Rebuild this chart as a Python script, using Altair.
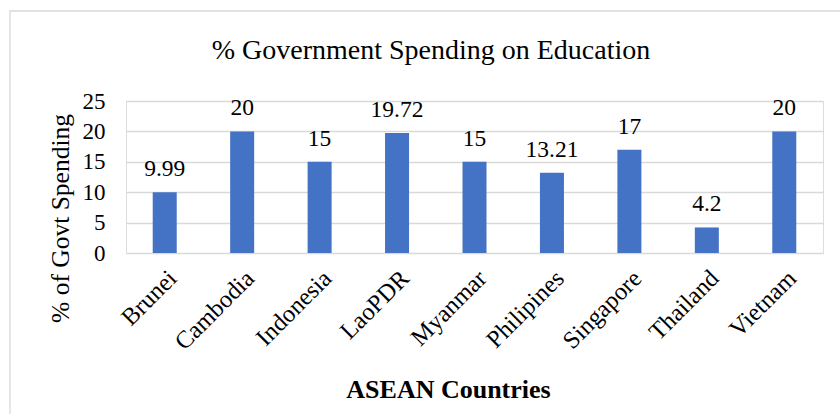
import altair as alt
import pandas as pd

countries = ["Brunei", "Cambodia", "Indonesia", "LaoPDR", "Myanmar",
             "Philipines", "Singapore", "Thailand", "Vietnam"]
values = [9.99, 20, 15, 19.72, 15, 13.21, 17, 4.2, 20]
labels = ["9.99", "20", "15", "19.72", "15", "13.21", "17", "4.2", "20"]
title_text = ["% Government Spending on Education"]

df = pd.DataFrame({"country": countries, "value": values, "label": labels})

FONT = "Liberation Serif"

x = alt.X("country:N", sort=countries,
          scale=alt.Scale(paddingInner=0.69, paddingOuter=0.345),
          axis=alt.Axis(title="ASEAN Countries", labelAngle=-45, labelFontSize=24.5,
                        labelFont=FONT, labelColor="#000000", labelPadding=13,
                        ticks=False, domain=False, labelOverlap=False,
                        titleFont=FONT, titleFontSize=26, titleFontWeight="bold",
                        titleColor="#000000", titleX=322, titleY=144,
                        titleBaseline="alphabetic", titleAlign="center"))
y = alt.Y("value:Q", scale=alt.Scale(domain=[0, 25], nice=False),
          axis=alt.Axis(title="% of Govt Spending", values=[0, 5, 10, 15, 20, 25],
                        labelFontSize=23, labelFont=FONT, labelColor="#000000",
                        labelPadding=21, ticks=False, domain=False, labelOverlap=False,
                        gridColor="#d9d9d9", gridWidth=1.3,
                        titleFont=FONT, titleFontSize=25.5, titleFontWeight="normal",
                        titleColor="#000000", titleX=-58, titleY=117,
                        titleAngle=-90, titleBaseline="alphabetic", titleAlign="center"))

border = alt.Chart(pd.DataFrame({"a": [0]})).mark_rect(
    fill=None, stroke="#d9d9d9", strokeWidth=1.3
).encode(x=alt.value(-116), x2=alt.value(800), y=alt.value(-90), y2=alt.value(400))

title = alt.Chart(pd.DataFrame({"t": title_text})).mark_text(
    font=FONT, fontSize=28, color="#000000", baseline="alphabetic", align="center"
).encode(x=alt.value(305), y=alt.value(-42), text="t:N")

bars = alt.Chart(df).mark_bar(color="#4472C4").encode(x=x, y=y)

text = alt.Chart(df).mark_text(
    font=FONT, fontSize=23.5, color="#000000", baseline="alphabetic", dy=-16
).encode(x=x, y=y, text="label:N")

chart = alt.layer(border, title, bars, text).properties(
    width=697, height=152,
    padding={"left": 126, "top": 101, "right": 17, "bottom": 161},
    autosize=alt.AutoSizeParams(type="none"),
).configure_view(stroke=None).configure(background="white")

chart.save("out.html", embed_options={"renderer": "svg", "actions": False})
